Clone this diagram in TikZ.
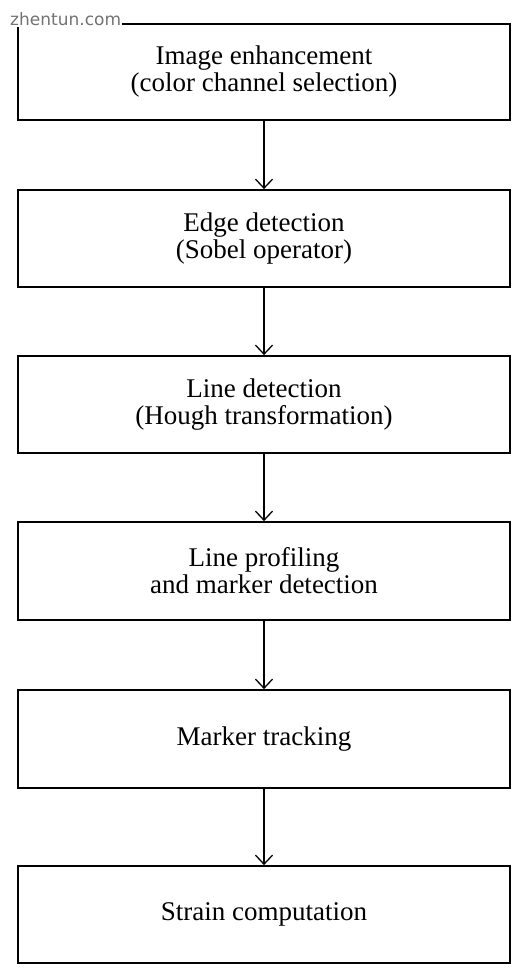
\documentclass[tikz,border=0pt]{standalone}
\usepackage{fontspec}
\setmainfont{Liberation Serif}
\newfontfamily\wmfont{DejaVu Sans}
\usetikzlibrary{arrows.meta}
\begin{document}
\begin{tikzpicture}[x=1pt,y=-1pt,
  stepbox/.style={draw, line width=1.8pt, minimum width=492pt, minimum height=96pt,
    align=center, inner sep=0pt, font=\fontsize{27}{27}\selectfont},
  flow/.style={-{Straight Barb[length=9pt,width=17pt,line width=1.3pt]}, line width=1.3pt},
  wm/.style={font=\wmfont\fontsize{17}{17}\selectfont, text=black!55, fill=white, inner sep=1pt}]
\useasboundingbox (0,0) rectangle (528,980);
\fill[white] (0,0) rectangle (528,980);
\node[stepbox] (b1) at (264,72) {Image enhancement\\(color channel selection)};
\node[stepbox, minimum height=97pt] (b2) at (264,238.5) {Edge detection\\(Sobel operator)};
\node[stepbox, minimum height=97pt] (b3) at (264,404.5) {Line detection\\(Hough transformation)};
\node[stepbox, minimum height=98pt] (b4) at (264,571) {Line profiling\\and marker detection};
\node[stepbox, minimum height=98pt] (b5) at (264,739) {Marker tracking};
\node[stepbox, minimum height=97pt] (b6) at (264,914.5) {Strain computation};
\draw[flow] (b1.south) -- (b2.north);
\draw[flow] (b2.south) -- (b3.north);
\draw[flow] (b3.south) -- (b4.north);
\draw[flow] (b4.south) -- (b5.north);
\draw[flow] (b5.south) -- (b6.north);
\node[wm, anchor=west] (wmk) at (9,19) {zhentun.com};
\end{tikzpicture}
\end{document}
